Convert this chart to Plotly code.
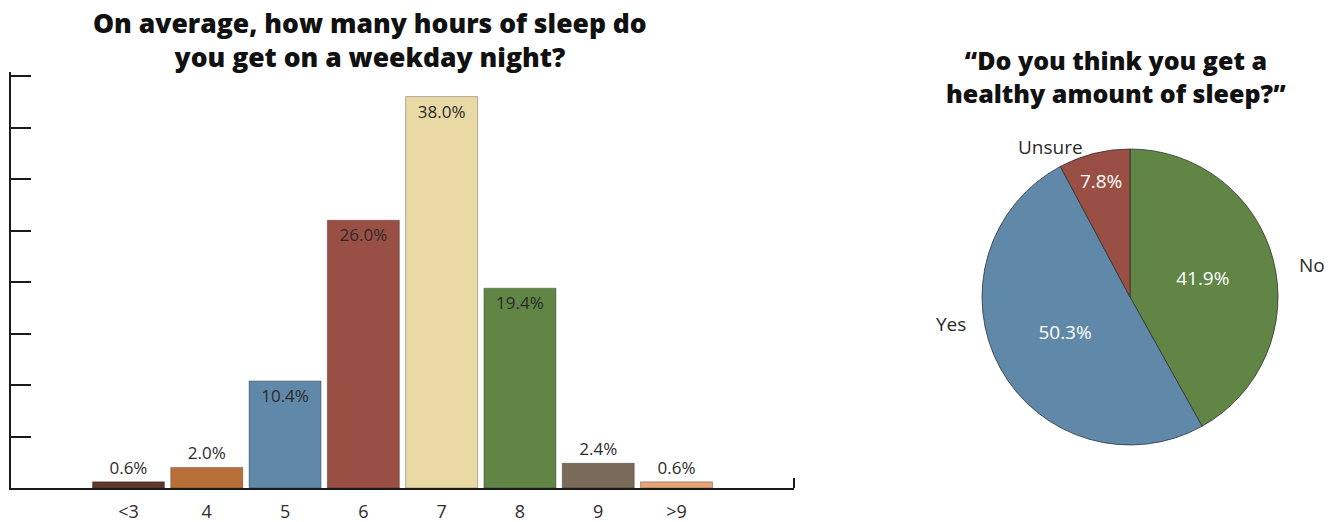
import plotly.graph_objects as go

# Survey data
hours = ["<3", "4", "5", "6", "7", "8", "9", ">9"]
share_pct = [0.6, 2.0, 10.4, 26.0, 38.0, 19.4, 2.4, 0.6]
bar_colors = ["#5e382c", "#b86f37", "#6088a8", "#9a4f44", "#e8d9a5",
              "#608545", "#7a6a59", "#e4a477"]

answers = ["No", "Yes", "Unsure"]
answer_pct = [41.9, 50.3, 7.8]
pie_colors = ["#608545", "#6088a8", "#9a4f44"]

W, H = 1343, 522
FONT = "'Open Sans', Lato, sans-serif"
TXT = "#2b2b2b"
Y_TOP = 40.4  # a little headroom so the 40% tick is drawn


def px_x(v):
    return v / W


def px_y(v):
    return 1 - v / H


fig = go.Figure()

fig.add_trace(go.Bar(
    x=list(range(len(hours))),
    y=share_pct,
    marker=dict(color=bar_colors, line=dict(color="rgba(0,0,0,0.28)", width=1)),
    width=0.92,
    text=[f"{v:.1f}%" for v in share_pct],
    textposition=["outside" if v < 5 else "inside" for v in share_pct],
    insidetextanchor="end",
    textfont=dict(family=FONT, size=17, color=TXT),
    cliponaxis=False,
    constraintext="none",
    hoverinfo="skip",
    showlegend=False,
))

fig.add_trace(go.Pie(
    labels=answers,
    values=answer_pct,
    sort=False,
    direction="clockwise",
    rotation=0,
    marker=dict(colors=pie_colors, line=dict(color="rgba(45,45,45,0.75)", width=1)),
    texttemplate="%{value:.1f}%",
    textposition="inside",
    insidetextorientation="horizontal",
    textfont=dict(family=FONT, size=19, color="white"),
    domain=dict(x=[px_x(982), px_x(1278)], y=[px_y(445), px_y(149)]),
    hoverinfo="skip",
    showlegend=False,
))

scale = (488 - 76) / 40.0
fig.update_layout(
    width=W, height=H,
    margin=dict(l=0, r=0, t=0, b=0),
    paper_bgcolor="white",
    plot_bgcolor="white",
    font=dict(family=FONT, color=TXT),
    bargap=0.08,
    xaxis=dict(
        domain=[px_x(11), px_x(794)],
        range=[-1.5, 8.5],
        tickvals=list(range(len(hours))),
        ticktext=hours,
        ticks="",
        ticklabelstandoff=7,
        showline=True, linecolor="#1a1a1a", linewidth=1.5,
        showgrid=False, zeroline=False,
        tickfont=dict(family=FONT, size=18, color=TXT),
        minor=dict(tickvals=[8.5], ticks="inside", ticklen=10,
                   tickcolor="#1a1a1a", tickwidth=1.5),
        fixedrange=True,
    ),
    yaxis=dict(
        domain=[px_y(488), px_y(488 - Y_TOP * scale)],
        range=[0, Y_TOP],
        tickvals=[0, 5, 10, 15, 20, 25, 30, 35, 40],
        ticks="inside", ticklen=20, tickwidth=1.5, tickcolor="#1a1a1a",
        showticklabels=False,
        showline=True, linecolor="#1a1a1a", linewidth=1.5,
        showgrid=False, zeroline=False,
        fixedrange=True,
    ),
)

fig.add_annotation(
    text="On average, how many hours of sleep do<br>you get on a weekday night?",
    x=px_x(370), y=px_y(40), xref="paper", yref="paper",
    xanchor="center", yanchor="middle", showarrow=False,
    font=dict(family=FONT, size=26.5, color="#111111", weight=800),
)
fig.add_annotation(
    text="\u201cDo you think you get a<br>healthy amount of sleep?\u201d",
    x=px_x(1116), y=px_y(76), xref="paper", yref="paper",
    xanchor="center", yanchor="middle", showarrow=False,
    font=dict(family=FONT, size=25, color="#111111", weight=800),
)

# Category names beside the pie
for name, (lx, ly) in zip(answers, [(1312, 265), (951, 324), (1050, 147)]):
    fig.add_annotation(
        text=name, x=px_x(lx), y=px_y(ly), xref="paper", yref="paper",
        xanchor="center", yanchor="middle", showarrow=False,
        font=dict(family=FONT, size=19, color=TXT),
    )

fig.write_html("out.html")
